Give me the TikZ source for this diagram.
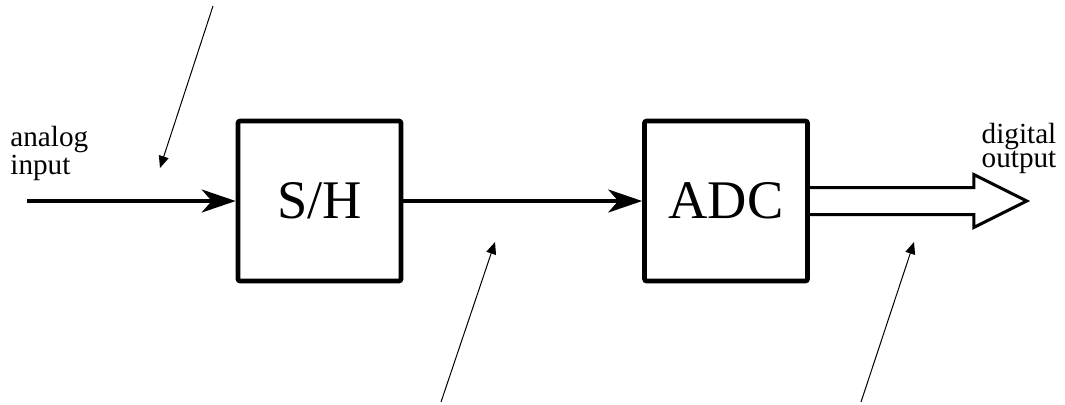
\documentclass[tikz,border=0pt]{standalone}
\usepackage{fontspec}
\setmainfont{Liberation Serif}
\usetikzlibrary{arrows.meta,calc}
\tikzset{
  block/.style={draw, line width=2.3pt, rounded corners=1pt, minimum width=81.5pt, minimum height=80pt, inner sep=0pt, font=\fontsize{27.2}{30}\selectfont},
  sig/.style={line width=1.8pt, -{Stealth[length=17pt,width=11.5pt,inset=5pt]}},
  note/.style={line width=0.5pt, -{Triangle[length=6pt,width=5pt]}},
  lbl/.style={inner sep=0pt, font=\fontsize{14.6}{12}\selectfont}
}
\begin{document}
\begin{tikzpicture}[x=0.5pt,y=-0.5pt]
    \useasboundingbox (0,0) rectangle (1065,404);
    \node[block] (sh) at (319.5,201) {S/H};
    \node[block] (adc) at (726,201) {ADC};
    \node[lbl, align=left, anchor=north west] (ain) at (10,126) {analog\\input};
    \node[lbl, align=center, anchor=north] (dout) at (1019,123) {digital\\output};
    \coordinate (in) at (27,201);
    \draw[sig] (in) -- (sh.west);
    \draw[sig] (sh.east) -- (adc.west);
    % hollow bus arrow
    \draw[line width=1.5pt, line join=miter] ($(adc.east)+(0,-13.5)$) -- ++(164,0) -- ++(0,-13)
        -- ($(adc.east)+(217,0)$) -- ($(adc.east)+(164,26.5)$) -- ++(0,-13) -- ($(adc.east)+(0,13.5)$);
    % pointers
    \coordinate (p1) at (213,6);   \coordinate (q1) at (160,168);
    \coordinate (p2) at (441,402); \coordinate (q2) at (495,242);
    \coordinate (p3) at (861,402); \coordinate (q3) at (914,242);
    \draw[note] (p1) -- (q1);
    \draw[note] (p2) -- (q2);
    \draw[note] (p3) -- (q3);
\end{tikzpicture}
\end{document}
